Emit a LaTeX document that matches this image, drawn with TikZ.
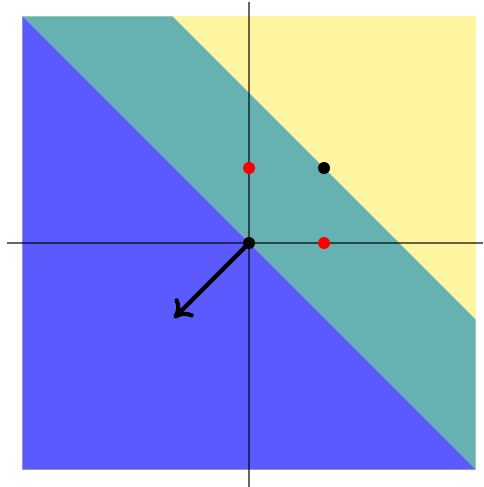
\documentclass[tikz,border=0pt]{standalone}
\usepackage{tikz}
\usetikzlibrary{arrows.meta}
\definecolor{regionblue}{RGB}{90,90,255}
\definecolor{regionteal}{RGB}{102,178,178}
\definecolor{regionyellow}{RGB}{255,245,160}

\begin{document}
\begin{tikzpicture}[
    axis/.style={draw=black, opacity=0.6, line width=0.4pt},
    dotred/.style={fill=red},
    dotblack/.style={fill=black},
    weightarr/.style={-{To[length=2.2mm,width=3.4mm]}, line width=1.6pt, color=black}
]
\useasboundingbox (-3.32,-3.253) rectangle (3.12,3.24);

%% ── Regions ──
\fill[regionyellow] (-3.02,3.02) rectangle (3.02,-3.02);
\fill[regionteal]   (-3.02,3.02) -- (-1.02,3.02) -- (3.02,-1.02) -- (3.02,-3.02) -- cycle;
\fill[regionblue]   (-3.02,3.02) -- (3.02,-3.02) -- (-3.02,-3.02) -- cycle;

%% ── Axes ──
\draw[axis] (-3.23,0) -- (3.12,0);
\draw[axis] (0,-3.253) -- (0,3.21);

%% ── Points ──
\coordinate (O)   at (0,0);
\coordinate (P01) at (0,1);
\coordinate (P10) at (1,0);
\coordinate (P11) at (1,1);
\coordinate (W)   at (-1,-1);

\draw[weightarr] (O) -- (W);

\fill[dotred]   (P01) circle (0.08);
\fill[dotred]   (P10) circle (0.08);
\fill[dotblack] (P11) circle (0.08);
\fill[dotblack] (O)   circle (0.08);

\end{tikzpicture}
\end{document}
